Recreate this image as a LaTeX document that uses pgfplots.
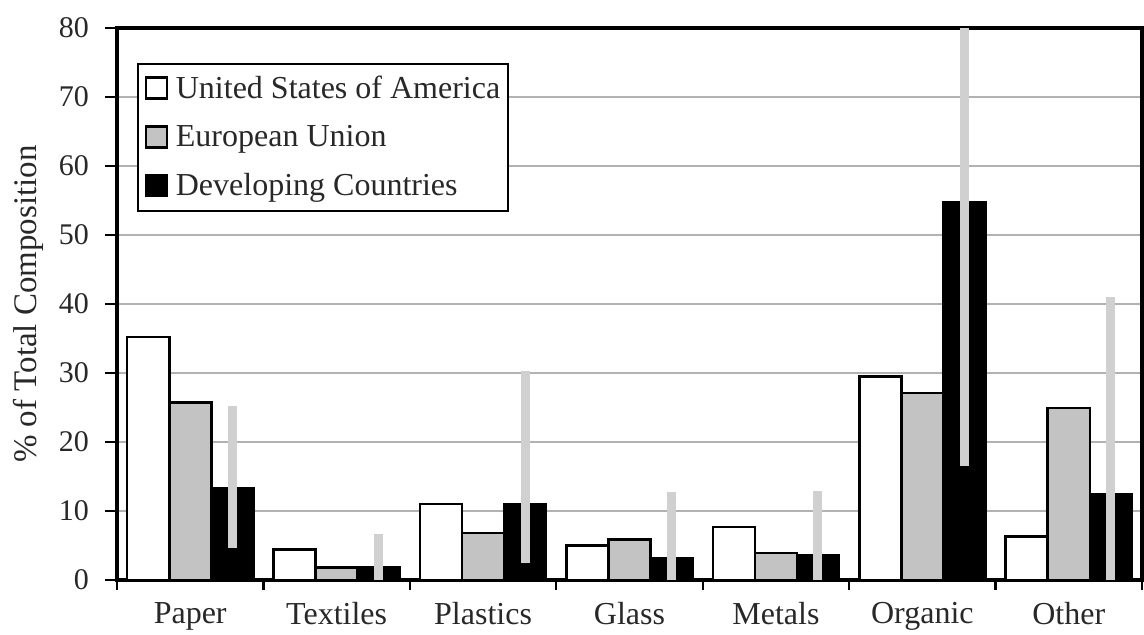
\documentclass[border=0pt]{standalone}
\usepackage{fontspec}
\setmainfont{Liberation Serif}
\usepackage{pgfplots}
\pgfplotsset{compat=1.18}
\usepackage{pgfplotstable}
\definecolor{gridgray}{RGB}{178,178,178}
\definecolor{bargray}{RGB}{195,195,195}
\definecolor{errgray}{RGB}{208,208,208}
\definecolor{txt}{RGB}{40,40,40}

\pgfplotsset{sqlegend/.style={legend image code/.code={\path[draw=none,fill=none] (0pt,0pt) -- (15pt,0pt);\draw[##1,line width=1.2pt] (2pt,-5pt) rectangle (12.5pt,5.5pt);}}}

\pgfplotstableread{
x usa eu dev ep em
0 35.2 25.7 13.3 11.9 8.7
1 4.4 1.8 1.8 4.9 1.8
2 11.0 6.8 10.9 19.4 8.5
3 5.0 5.9 3.2 9.6 3.2
4 7.7 3.9 3.6 9.3 3.6
5 29.5 27.1 54.7 25.3 38.2
6 6.3 24.9 12.4 28.6 12.4
}\data

\begin{document}
\begin{tikzpicture}
\useasboundingbox (-58.5pt,-27.5pt) rectangle (513.5pt,290pt);
\begin{axis}[
  at={(0,0)}, anchor=south west,
  scale only axis, width=512.5pt, height=276pt,
  xmin=-0.5, xmax=6.5, ymin=0, ymax=80,
  ytick={0,10,...,80},
  xtick={0,...,6},
  xticklabels={Paper,Textiles,Plastics,Glass,Metals,Organic,Other},
  major x tick style={draw=none},
  minor xtick={-0.5,0.5,...,6.5},
  minor tick length=5pt, major tick length=6pt,
  tick align=outside, tick pos=left,
  tick style={line width=1.2pt, black},
  ymajorgrids, grid style={gridgray, line width=1pt},
  axis line style={line width=1.6pt},
  /pgf/number format/assume math mode=true,
  ticklabel style={font=\fontsize{15}{18}\selectfont, text=txt},
  yticklabel style={xshift=-4.5pt},
  xticklabel style={font=\fontsize{16}{18}\selectfont, yshift=-1.5pt},
  ylabel={\% of Total Composition},
  every axis y label/.style={at={(axis description cs:-0.0868,0.5)}, rotate=90, anchor=center, font=\fontsize{16.5}{18}\selectfont, text=txt},
  ybar=0pt, bar width=0.287,
  legend style={at={(0.0195,0.9366)}, anchor=north west, draw=black, line width=0.9pt,
     font=\fontsize{16}{18}\selectfont, text=txt, row sep=8pt, inner xsep=2pt, inner ysep=4pt},
  legend cell align=left,
]
\addplot[bar shift=-0.287, fill=white, draw=black, line width=1.3pt, sqlegend]
  table[x=x,y=usa]{\data};
\addplot[bar shift=0, fill=bargray, draw=black, line width=1.3pt, sqlegend]
  table[x=x,y=eu]{\data};
\addplot[bar shift=0.287, fill=black, draw=black, line width=1.3pt, sqlegend,
  error bars/.cd, y dir=both, y explicit, error mark=none,
  error bar style={line width=4.5pt, errgray}]
  table[x=x,y=dev,y error plus=ep,y error minus=em]{\data};
\legend{United States of America,European Union,Developing Countries}
\end{axis}
\end{tikzpicture}
\end{document}
